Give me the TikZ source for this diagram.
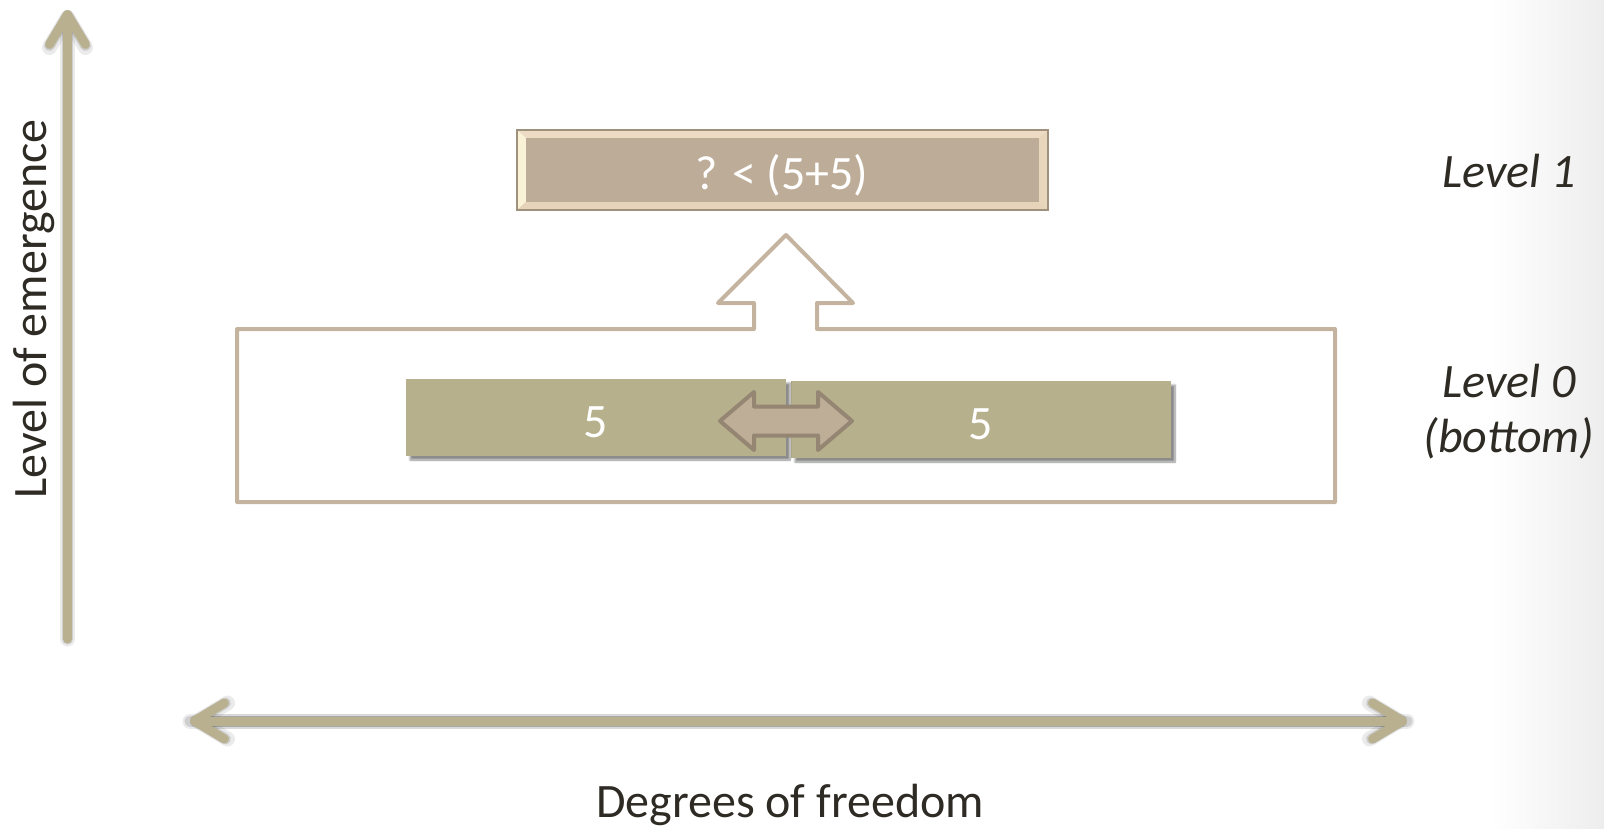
\documentclass[tikz,border=0pt]{standalone}
\usepackage{fontspec}
\setmainfont{Carlito}
\usetikzlibrary{arrows.meta,shadows.blur}
\definecolor{axiscol}{HTML}{B8B08E}
\definecolor{boxcol}{HTML}{B7B08C}
\definecolor{framecol}{HTML}{C4B49F}
\definecolor{topface}{HTML}{BDAD98}
\definecolor{topborder}{HTML}{9E917E}
\definecolor{bevtop}{HTML}{EDDCC3}
\definecolor{bevleft}{HTML}{FAF2D6}
\definecolor{bevbot}{HTML}{E6D3B9}
\definecolor{bevright}{HTML}{E9D7BD}
\definecolor{dafill}{HTML}{BEAE98}
\definecolor{dastroke}{HTML}{948672}
\definecolor{txtcol}{HTML}{2E2B25}
\tikzset{
  bigfont/.style={font=\fontsize{48}{55}\selectfont},
  axisline/.style={draw=axiscol, line width=9pt, line cap=round,
    -{Straight Barb[round,length=30pt,width=36pt]}},
  axisshadow/.style={draw=black, opacity=#1, line cap=round,
    -{Straight Barb[round,length=30pt,width=36pt]}},
  fivebox/.style={fill=boxcol, minimum width=380pt, minimum height=77pt,
    inner sep=0pt,
    blur shadow={shadow xshift=4pt, shadow yshift=-4pt, shadow blur steps=8, shadow opacity=45}},
  wtxt/.style={text=white, bigfont, anchor=base, inner sep=0pt},
  lbl/.style={text=txtcol, bigfont, anchor=base, inner sep=0pt},
  lvl/.style={text=txtcol, font=\fontsize{48}{55}\selectfont\itshape, anchor=base, inner sep=0pt},
}
\begin{document}
\begin{tikzpicture}[x=1pt,y=-1pt]
\useasboundingbox (0,0) rectangle (1604,829);
\shade[left color=white, right color=black!7] (1490,0) rectangle (1604,829);

% axes
\coordinate (vbot) at (67.5,639);
\coordinate (vtop) at (67.5,10);
\coordinate (hl) at (190,721);
\coordinate (hr) at (1407,721);
\begin{scope}[shift={(4,4)}]
  \draw[axisshadow=0.08, line width=15pt] (vbot) -- (vtop);
  \draw[axisshadow=0.12, line width=11pt] (vbot) -- (vtop);
  \draw[axisshadow=0.08, line width=15pt] (hr) -- (hl);
  \draw[axisshadow=0.08, line width=15pt] (hl) -- (hr);
  \draw[axisshadow=0.12, line width=11pt] (hl) -- (hr);
  \draw[axisshadow=0.12, line width=11pt] (hr) -- (hl);
\end{scope}
\draw[axisline] (vbot) -- (vtop);
\draw[axisline, {Straight Barb[round,length=30pt,width=36pt]}-{Straight Barb[round,length=30pt,width=36pt]}] (hl) -- (hr);

\node[lbl, rotate=90] (yl) at (46,309) {Level of emergence};
\node[lbl] (xl) at (790,817) {Degrees of freedom};

% level 0 frame with up arrow
\draw[framecol, line width=4pt, line join=round]
  (754,329) -- (237,329) -- (237,502) -- (1335,502) -- (1335,329) -- (817,329)
  -- (817,303) -- (853,303) -- (786,235) -- (718,303) -- (754,303) -- cycle;

% top bevel box
\node[minimum width=531pt, minimum height=80pt, inner sep=0pt, fill=bevtop] (top) at (782.5,170) {};
\fill[bevleft] (top.north west) -- ([xshift=9pt,yshift=-8pt]top.north west) -- ([xshift=9pt,yshift=8pt]top.south west) -- (top.south west) -- cycle;
\fill[bevbot] (top.south west) -- ([xshift=9pt,yshift=8pt]top.south west) -- ([xshift=-9pt,yshift=8pt]top.south east) -- (top.south east) -- cycle;
\fill[bevright] (top.south east) -- ([xshift=-9pt,yshift=8pt]top.south east) -- ([xshift=-9pt,yshift=-8pt]top.north east) -- (top.north east) -- cycle;
\fill[topface] ([xshift=9pt,yshift=-8pt]top.north west) rectangle ([xshift=-9pt,yshift=8pt]top.south east);
\draw[topborder, line width=1.5pt] (top.north west) rectangle (top.south east);
\node[wtxt] (toptxt) at (782,190) {? < (5+5)};

% level 0 boxes
\node[fivebox] (b2) at (981,419.5) {};
\node[fivebox] (b1) at (596,417.5) {};
\node[wtxt] (t1) at (596,437) {5};
\node[wtxt] (t2) at (981,439) {5};

% double arrow
\begin{scope}[shift={(786,421)}]
\filldraw[fill=dafill, draw=dastroke, line width=4pt, line join=round]
  (-66,0) -- (-32,-29) -- (-32,-14.5) -- (32,-14.5) -- (32,-29) -- (66,0)
  -- (32,29) -- (32,14.5) -- (-32,14.5) -- (-32,29) -- cycle;
\end{scope}

% level labels
\node[lvl] (l1) at (1509,188) {Level 1};
\node[lvl] (l0a) at (1509,397) {Level 0};
\node[lvl] (l0b) at (1509,452) {(bottom)};
\end{tikzpicture}
\end{document}
